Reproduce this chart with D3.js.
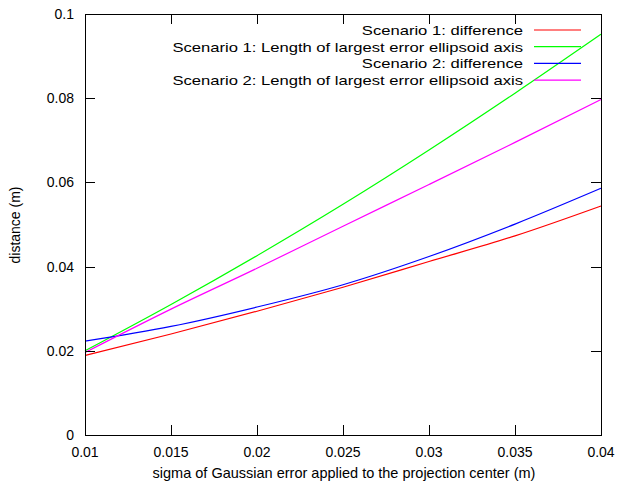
<!DOCTYPE html>
<html>
<head>
<meta charset="utf-8">
<script src="https://d3js.org/d3.v7.min.js"></script>
<style>
  body { margin: 0; background: #fff; }
  svg { font-family: "Liberation Sans", Arial, sans-serif; }
</style>
</head>
<body>
<svg width="629" height="486"></svg>
<script>
// values
var sigma = [0.01, 0.015, 0.02, 0.025, 0.03, 0.035, 0.04];
var s1diff = [0.0189, 0.0240, 0.0294, 0.0351, 0.0412, 0.0473, 0.0544];
var s1axis = [0.0200, 0.0310, 0.0426, 0.0548, 0.0677, 0.0812, 0.0952];
var s2diff = [0.0223, 0.0258, 0.0304, 0.0357, 0.0424, 0.0501, 0.0586];
var s2axis = [0.0196, 0.0299, 0.0396, 0.0496, 0.0595, 0.0695, 0.0797];
var xTicks = [0.01, 0.015, 0.02, 0.025, 0.03, 0.035, 0.04];
var yTicks = [0, 0.02, 0.04, 0.06, 0.08, 0.1];

var series = [
  {name: "Scenario 1: difference", values: s1diff, color: "#ff0000"},
  {name: "Scenario 1: Length of largest error ellipsoid axis", values: s1axis, color: "#00ff00"},
  {name: "Scenario 2: difference", values: s2diff, color: "#0000ff"},
  {name: "Scenario 2: Length of largest error ellipsoid axis", values: s2axis, color: "#ff00ff"}
];

var svg = d3.select("svg");
var pLeft = 85, pRight = 601, pTop = 14, pBottom = 435;

var x = d3.scaleLinear().domain([0.01, 0.04]).range([pLeft, pRight]);
var y = d3.scaleLinear().domain([0, 0.1]).range([pBottom, pTop]);

// curves
var line = d3.line()
    .x(function(d, i){ return x(sigma[i]); })
    .y(function(d){ return y(d); })
    .curve(d3.curveMonotoneX);

svg.selectAll("path.curve")
    .data(series)
    .enter()
    .append("path")
    .attr("class", "curve")
    .attr("d", function(d){ return line(d.values); })
    .attr("fill", "none")
    .attr("stroke", function(d){ return d.color; })
    .attr("stroke-width", 1.2);

// ticks (inward, mirrored like gnuplot)
var tl = 10;
var g = svg.append("g").attr("stroke", "#000").attr("stroke-width", 1);
xTicks.forEach(function(t){
  var px = Math.round(x(t)) + 0.5;
  g.append("line").attr("x1", px).attr("x2", px).attr("y1", pBottom).attr("y2", pBottom - tl);
  g.append("line").attr("x1", px).attr("x2", px).attr("y1", pTop).attr("y2", pTop + tl);
});
yTicks.forEach(function(t){
  var py = Math.round(y(t)) + 0.5;
  g.append("line").attr("x1", pLeft).attr("x2", pLeft + tl).attr("y1", py).attr("y2", py);
  g.append("line").attr("x1", pRight).attr("x2", pRight - tl).attr("y1", py).attr("y2", py);
});

// border
svg.append("rect")
    .attr("x", pLeft + 0.5).attr("y", pTop + 0.5)
    .attr("width", pRight - pLeft).attr("height", pBottom - pTop)
    .attr("fill", "none").attr("stroke", "#000").attr("stroke-width", 1);

// tick labels
svg.selectAll("text.xl")
    .data(xTicks)
    .enter()
    .append("text")
    .attr("class", "xl")
    .attr("x", function(d){ return x(d); })
    .attr("y", 457)
    .attr("text-anchor", "middle")
    .attr("font-size", 14)
    .text(function(d){ return d3.format("")(d); });

svg.selectAll("text.yl")
    .data(yTicks)
    .enter()
    .append("text")
    .attr("class", "yl")
    .attr("x", 74)
    .attr("y", function(d){ return y(d) + 5; })
    .attr("text-anchor", "end")
    .attr("font-size", 14)
    .text(function(d){ return d3.format("")(d); });

// axis titles
svg.append("text")
    .attr("x", 344).attr("y", 478)
    .attr("text-anchor", "middle")
    .attr("font-size", 14.5)
    .text("sigma of Gaussian error applied to the projection center (m)");

svg.append("text")
    .attr("transform", "translate(20,225) rotate(-90)")
    .attr("text-anchor", "middle")
    .attr("font-size", 14)
    .text("distance (m)");

// legend
var leg = svg.selectAll("g.leg")
    .data(series)
    .enter()
    .append("g")
    .attr("class", "leg")
    .attr("transform", function(d, i){ return "translate(0," + (30 + i * 16.7) + ")"; });

leg.append("text")
    .attr("transform", "translate(523,5) scale(1.23,1)")
    .attr("text-anchor", "end")
    .attr("font-size", 13.5)
    .text(function(d){ return d.name; });

leg.append("line")
    .attr("x1", 534).attr("x2", 581)
    .attr("y1", 0).attr("y2", 0)
    .attr("stroke", function(d){ return d.color; })
    .attr("stroke-width", 1.2);
</script>
</body>
</html>
